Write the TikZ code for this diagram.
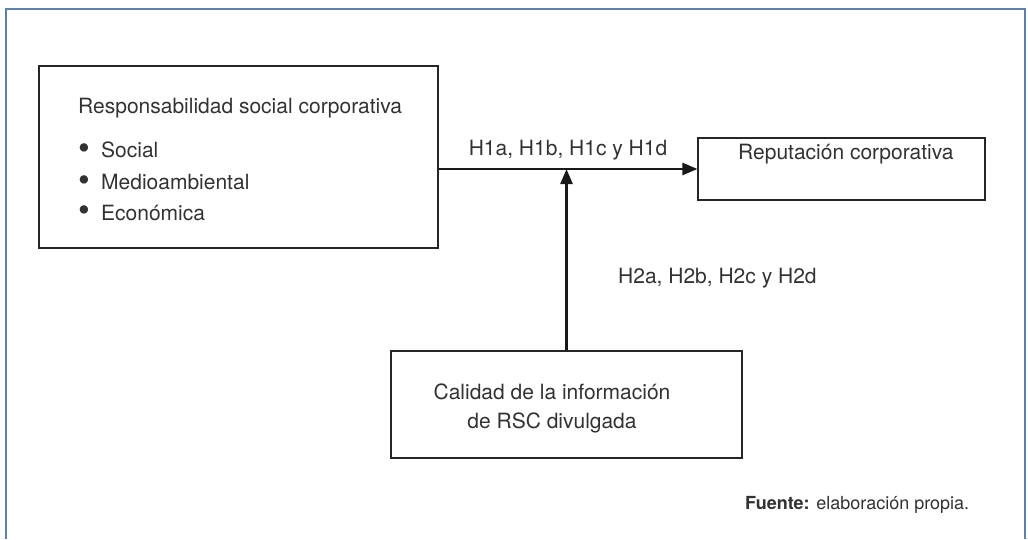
\documentclass[tikz,border=0pt]{standalone}
\usepackage{fontspec}
\setmainfont{TeX Gyre Heros}
\usetikzlibrary{arrows.meta, positioning}

\definecolor{framecol}{RGB}{95,128,172}
\definecolor{txtcol}{RGB}{50,50,50}

\begin{document}
\begin{tikzpicture}[
    x=1pt, y=-1pt,
    >={Triangle[length=15pt, width=12pt]},
    box/.style={draw=black!85, line width=1.1pt},
    lbl/.style={inner sep=0pt, text=txtcol, font=\fontsize{21}{25}\selectfont},
    link/.style={->, line width=2.4pt, black!90}
  ]
  \useasboundingbox (0,0) rectangle (1028,539);

  % outer frame, open at the bottom
  \draw[framecol, line width=1.4pt] (6,539) -- (6,9) -- (1025,9) -- (1025,539);

  % boxes
  \node[box, minimum width=287pt, minimum height=62pt] (rep) at (841.5,169) {};
  \node[box, minimum width=399pt, minimum height=182pt] (rsc) at (238.5,157) {};
  \node[box, minimum width=351pt, minimum height=107pt] (cal) at (566.5,404.5) {};

  % texts inside the boxes
  \node[lbl, anchor=base west] (rsct) at (78,113) {Responsabilidad social corporativa};
  \foreach \y/\t/\n in {157.5/Social/soc, 189.5/Medioambiental/med, 220/Económica/eco} {
    \node[lbl, anchor=base west] (\n) at (78,\y)
      {\makebox[23pt][l]{\smash{\raisebox{-1.5pt}{\scalebox{1.6}{\textbullet}}}}\t};
  }
  \node[lbl, anchor=base west] (rept) at (738,159) {Reputación corporativa};
  \node[lbl, anchor=base, align=center, font=\fontsize{21}{29}\selectfont]
    (calt) at (552,428) {Calidad de la información\\de RSC divulgada};

  % relations
  \draw[link] (rsc.east |- rep.west) -- (rep.west);
  \draw[link] (cal.north) -- (cal.north |- rep.west);

  \node[lbl, anchor=base] (h1) at (568,155) {H1a, H1b, H1c y H1d};
  \node[lbl, anchor=base west] (h2) at (618,283) {H2a, H2b, H2c y H2d};

  % source
  \node[lbl, anchor=base west, font=\fontsize{18}{20}\selectfont] (fuente) at (745,509)
    {\textbf{Fuente:} elaboración propia.};
\end{tikzpicture}
\end{document}
